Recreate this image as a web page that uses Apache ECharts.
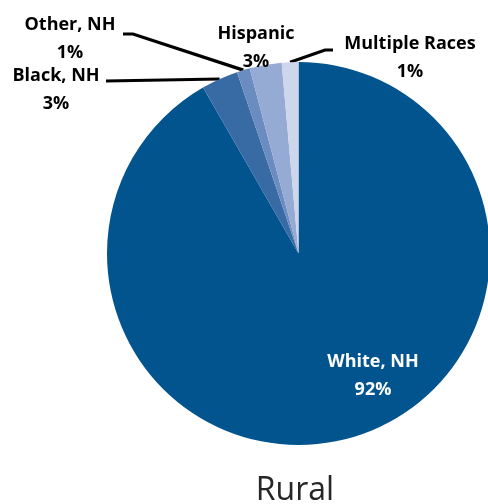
<!DOCTYPE html>
<html>
<head>
<meta charset="utf-8">
<script src="https://cdn.jsdelivr.net/npm/echarts@6/dist/echarts.min.js"></script>
<style>
  html, body { margin: 0; padding: 0; background: #fff; }
  #main { width: 488px; height: 504px; }
</style>
</head>
<body>
<div id="main"></div>
<script>
// groups, clockwise from 12 o'clock
var groups = ['White, NH', 'Black, NH', 'Other, NH', 'Hispanic', 'Multiple Races'];
var shares = [91.6, 3.1, 1.1, 2.7, 1.4];
var colors = ['#02548f', '#386aa3', '#6a8cc0', '#96abd4', '#cdd6ea'];

// label block centres and leader line bends (layout only)
var labelPos = [[373, 376], [56, 90], [70, 39], [256, 48], [410, 58]];
var lineBends = [null, [[106, 81]], [[133, 34], [123, 34]], null, [[325, 50], [333, 50]]];

var chart = echarts.init(document.getElementById('main'));

var data = groups.map(function (g, i) {
    var item = { name: g, value: shares[i], itemStyle: { color: colors[i] } };
    if (i === 0) {
        item.label = { color: '#fff' };
        item.labelLine = { show: false };
    }
    if (i === 3) {
        item.labelLine = { show: false };
    }
    return item;
});

chart.setOption({
    animation: false,
    title: {
        text: 'Rural',
        left: 290,
        textAlign: 'center',
        top: 470,
        textStyle: { fontFamily: 'Open Sans', fontWeight: 'normal', fontSize: 32, color: '#262626' }
    },
    series: [{
        type: 'pie',
        center: [298.5, 253.5],
        radius: 191.5,
        startAngle: 90,
        clockwise: true,
        avoidLabelOverlap: false,
        silent: true,
        data: data,
        label: {
            show: true,
            position: 'outside',
            fontFamily: 'Open Sans',
            fontWeight: 'bold',
            fontSize: 18,
            lineHeight: 28,
            color: '#000',
            formatter: function (p) {
                return p.name + '\n' + Math.round(p.value) + '%';
            }
        },
        labelLine: {
            show: true,
            length: 10,
            length2: 10,
            lineStyle: { color: '#000', width: 3.2 }
        },
        labelLayout: function (p) {
            var pos = labelPos[p.dataIndex];
            var out = { x: pos[0], y: pos[1], align: 'center', verticalAlign: 'middle' };
            var bend = lineBends[p.dataIndex];
            if (bend && p.labelLinePoints) {
                out.labelLinePoints = [p.labelLinePoints[0]].concat(bend);
            }
            return out;
        }
    }]
});
</script>
</body>
</html>
